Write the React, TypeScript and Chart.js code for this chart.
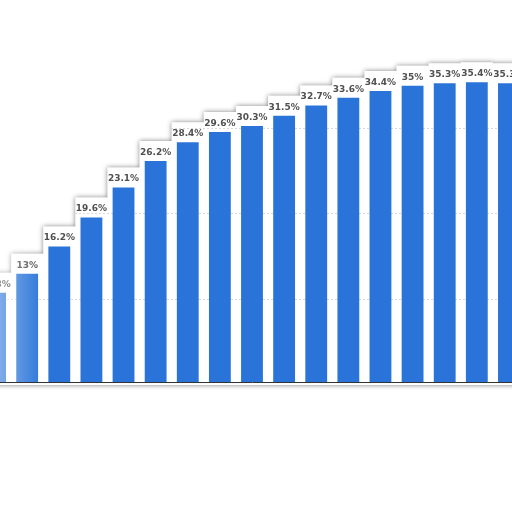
import React, { useEffect, useRef } from "react";
import { Chart, registerables } from "chart.js";

Chart.register(...registerables);

const categories = ["1", "2", "3", "4", "5", "6", "7", "8", "9", "10", "11", "12", "13", "14", "15", "16", "17"];
const values = [10.8, 13, 16.2, 19.6, 23.1, 26.2, 28.4, 29.6, 30.3, 31.5, 32.7, 33.6, 34.4, 35, 35.3, 35.4, 35.3];
const valueLabels = values.map((v) => `${v}%`);
const yTicks = [10, 20, 30];

const BAR_COLOR = "#2a74d9";
const LABEL_COLOR = "#505050";
const LABEL_FONT = "bold 9px 'DejaVu Sans', Verdana, sans-serif";

function silhouettePath(chart: any) {
  const meta = chart.getDatasetMeta(0);
  const ctx = chart.ctx;
  const area = chart.chartArea;
  const pitch = (area.right - area.left) / values.length;
  meta.data.forEach((bar: any) => {
    const top = bar.y - 20;
    ctx.rect(bar.x - pitch / 2, top, pitch, area.bottom + 3 - top);
  });
}

const silhouettePlugin = {
  id: "silhouette",
  beforeDatasetsDraw(chart: any) {
    const ctx = chart.ctx;
    const w = chart.width;
    const h = chart.height;
    ctx.save();
    ctx.beginPath();
    ctx.rect(-10, -10, w + 20, h + 20);
    silhouettePath(chart);
    ctx.clip("evenodd");
    ctx.fillStyle = "#ffffff";
    ctx.fillRect(-10, -10, w + 20, h + 20);
    ctx.beginPath();
    silhouettePath(chart);
    ctx.shadowColor = "rgba(0,0,0,0.5)";
    ctx.shadowBlur = 5;
    ctx.fillStyle = "#ffffff";
    ctx.fill();
    ctx.restore();
  },
};

const labelPlugin = {
  id: "valueLabels",
  afterDatasetsDraw(chart: any) {
    const meta = chart.getDatasetMeta(0);
    const ctx = chart.ctx;
    ctx.save();
    ctx.font = LABEL_FONT;
    ctx.fillStyle = LABEL_COLOR;
    ctx.textAlign = "center";
    ctx.textBaseline = "alphabetic";
    meta.data.forEach((bar: any, i: number) => {
      ctx.fillText(valueLabels[i], bar.x, bar.y - 6);
    });
    ctx.restore();
  },
  afterDraw(chart: any) {
    const ctx = chart.ctx;
    const area = chart.chartArea;
    ctx.save();
    const x0 = 21;
    const g = ctx.createLinearGradient(x0, 0, x0 + 45, 0);
    g.addColorStop(0, "rgba(255,255,255,0.4)");
    g.addColorStop(1, "rgba(255,255,255,0)");
    ctx.fillStyle = g;
    ctx.fillRect(x0, area.top, 45, area.bottom - area.top);
    ctx.restore();
  },
};

export default function App() {
  const ref = useRef<HTMLCanvasElement | null>(null);

  useEffect(() => {
    if (!ref.current) return;
    const chart = new Chart(ref.current, {
      type: "bar",
      data: {
        labels: categories,
        datasets: [
          {
            data: values,
            backgroundColor: BAR_COLOR,
            borderWidth: 0,
            categoryPercentage: 1,
            barPercentage: 0.68,
          },
        ],
      },
      options: {
        animation: false,
        responsive: false,
        maintainAspectRatio: false,
        devicePixelRatio: 1,
        layout: { padding: { top: 43, bottom: 30, left: 0, right: 0 } },
        plugins: {
          legend: { display: false },
          tooltip: { enabled: false },
        },
        scales: {
          x: {
            grid: { display: false, drawTicks: false },
            ticks: { display: false },
            border: { display: true, color: "#333333", width: 1 },
          },
          y: {
            min: 0.35,
            max: 40,
            afterBuildTicks(scale: any) {
              scale.ticks = yTicks.map((v) => ({ value: v }));
            },
            grid: {
              drawTicks: false,
              color: "rgba(0,0,0,0.15)",
              lineWidth: 1,
            },
            ticks: { display: false },
            border: { display: false, dash: [2, 2] },
          },
        },
      },
      plugins: [silhouettePlugin, labelPlugin],
    } as any);
    return () => chart.destroy();
  }, []);

  return (
    <div
      style={{
        position: "fixed",
        left: 0,
        top: 0,
        width: 512,
        height: 512,
        overflow: "hidden",
        background: "#ffffff",
      }}
    >
      <canvas
        ref={ref}
        width={546}
        height={412}
        style={{ position: "absolute", left: -21, top: 0, width: 546, height: 412 }}
      />
    </div>
  );
}
